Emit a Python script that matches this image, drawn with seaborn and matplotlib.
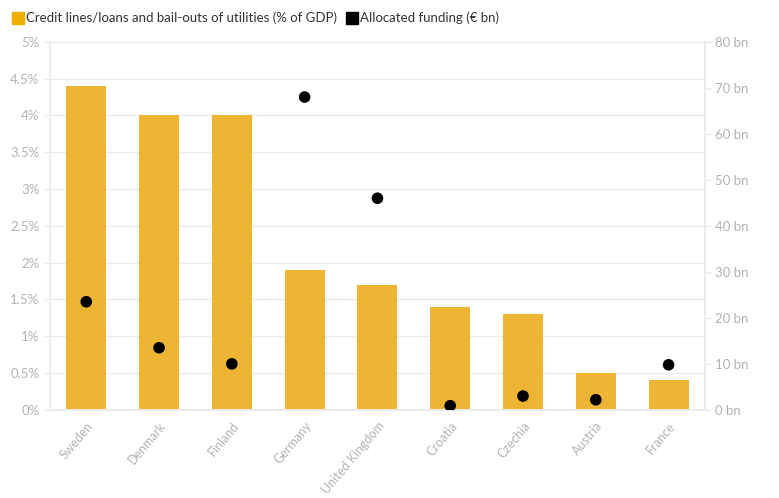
import numpy as np
import pandas as pd
import matplotlib
matplotlib.use("Agg")
import matplotlib.pyplot as plt
import seaborn as sns
from matplotlib.lines import Line2D
from matplotlib.ticker import FuncFormatter

countries = ["Sweden", "Denmark", "Finland", "Germany", "United Kingdom",
             "Croatia", "Czechia", "Austria", "France"]
credit_pct_gdp = [4.4, 4.0, 4.0, 1.9, 1.7, 1.4, 1.3, 0.5, 0.4]
funding_bn = [23.5, 13.5, 10.0, 68.0, 46.0, 0.9, 3.0, 2.2, 9.8]

bar_color = "#EDB533"
tick_color = "#b3b3b3"
grid_color = "#ebebeb"

sns.set_theme(style="white")
plt.rcParams["font.family"] = ["Lato", "DejaVu Sans"]

df = pd.DataFrame({"country": countries, "credit": credit_pct_gdp, "funding": funding_bn})

fig = plt.figure(figsize=(7.79, 4.98), dpi=100)
ax = fig.add_axes([0.064, 0.177, 0.841, 0.739])

sns.barplot(data=df, x="country", y="credit", color=bar_color, width=0.55,
            saturation=1, linewidth=0, ax=ax, zorder=2)
ax.set_ylim(0, 5)
ax.set_yticks(np.arange(0, 5.01, 0.5))
ax.yaxis.set_major_formatter(FuncFormatter(lambda v, p: f"{v:g}%"))
ax.set_xlim(-0.5, len(countries) - 0.5)
ax.grid(axis="y", color=grid_color, linewidth=1, zorder=0)
ax.set_axisbelow(True)
ax.set_xlabel("")
ax.set_ylabel("")

ax2 = ax.twinx()
sns.scatterplot(data=df, x="country", y="funding", color="black", s=70,
                edgecolor="none", ax=ax2, zorder=3)
ax2.set_ylim(0, 80)
ax2.set_yticks(np.arange(0, 81, 10))
ax2.yaxis.set_major_formatter(FuncFormatter(lambda v, p: f"{v:g} bn"))
ax2.set_ylabel("")
ax2.set_xlabel("")

for a in (ax, ax2):
    a.spines["top"].set_visible(False)
    for side in ("bottom", "left", "right"):
        a.spines[side].set_color(grid_color)
    a.tick_params(axis="both", colors=tick_color, labelsize=9.5, length=4,
                  width=1, labelcolor=tick_color)
    a.tick_params(axis="both", color=grid_color)

ax.tick_params(axis="x", pad=3, labelsize=9)
plt.setp(ax.get_xticklabels(), rotation=50, ha="right", rotation_mode="anchor")

handles = [
    Line2D([], [], marker="s", linestyle="none", markersize=9,
           markerfacecolor="#F0AE00", markeredgecolor="#F0AE00"),
    Line2D([], [], marker="s", linestyle="none", markersize=9,
           markerfacecolor="black", markeredgecolor="black"),
]
labels = ["Credit lines/loans and bail-outs of utilities (% of GDP)",
          "Allocated funding (€ bn)"]
fig.legend(handles, labels, loc="upper left", bbox_to_anchor=(0.0, 1.0),
           ncol=2, frameon=False, fontsize=9.5, handletextpad=0.1,
           columnspacing=0.6, handlelength=1.0, labelcolor="#333333")

fig.savefig("out.png", dpi=100)
